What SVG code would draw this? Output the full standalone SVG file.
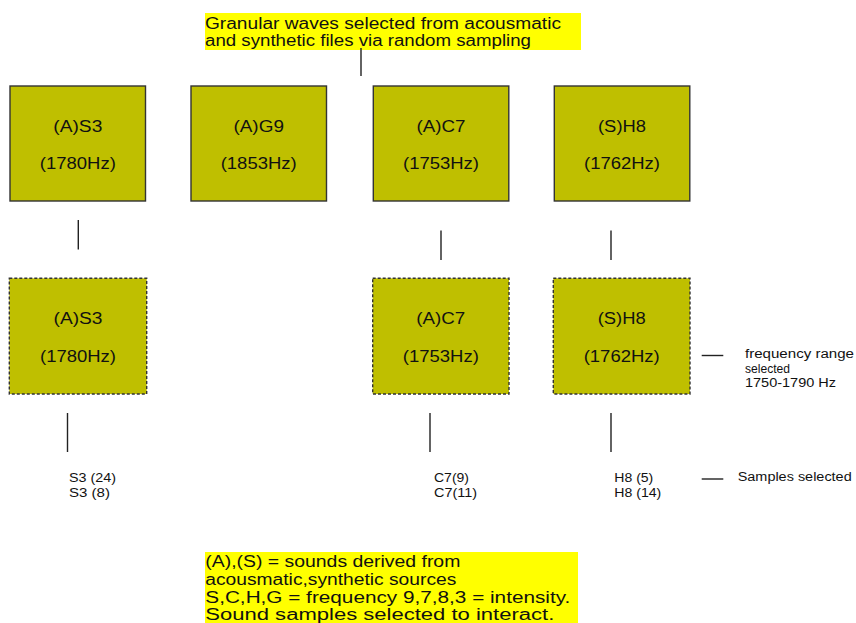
<svg xmlns="http://www.w3.org/2000/svg" width="856" height="623" viewBox="0 0 856 623">
<style>
text{font-family:"Liberation Sans",Arial,sans-serif;fill:#111;}
.cap{font-size:16px;}
.box{font-size:16px;text-anchor:middle;}
.sm{font-size:12px;}
.note{fill:#ffff00;}
.solid{fill:#bfbf00;stroke:#333;stroke-width:1.4;}
.dash{fill:#bfbf00;stroke:#333;stroke-width:1.4;stroke-dasharray:3 2;}
.conn line{stroke:#222;stroke-width:1.4;}
</style>
<rect width="856" height="623" fill="#ffffff"/>
<g id="caption-top">
<rect class="note" x="205" y="13" width="376" height="37"/>
<text class="cap" x="205" y="28.5" textLength="356" lengthAdjust="spacingAndGlyphs">Granular waves selected from acousmatic</text>
<text class="cap" x="205" y="46" textLength="326" lengthAdjust="spacingAndGlyphs">and synthetic files via random sampling</text>
</g>
<g id="node-top-S3">
<rect class="solid" x="10" y="86" width="135.5" height="115"/>
<text class="box" x="77.8" y="131.7" textLength="49" lengthAdjust="spacingAndGlyphs">(A)S3</text>
<text class="box" x="77.8" y="169" textLength="76" lengthAdjust="spacingAndGlyphs">(1780Hz)</text>
</g>
<g id="node-top-G9">
<rect class="solid" x="191" y="86" width="135.5" height="115"/>
<text class="box" x="258.7" y="131.7" textLength="50.5" lengthAdjust="spacingAndGlyphs">(A)G9</text>
<text class="box" x="258.7" y="169" textLength="76" lengthAdjust="spacingAndGlyphs">(1853Hz)</text>
</g>
<g id="node-top-C7">
<rect class="solid" x="373.3" y="86" width="135.5" height="115"/>
<text class="box" x="441" y="131.7" textLength="49" lengthAdjust="spacingAndGlyphs">(A)C7</text>
<text class="box" x="441" y="169" textLength="76" lengthAdjust="spacingAndGlyphs">(1753Hz)</text>
</g>
<g id="node-top-H8">
<rect class="solid" x="554.3" y="86" width="135.5" height="115"/>
<text class="box" x="622" y="131.7" textLength="48" lengthAdjust="spacingAndGlyphs">(S)H8</text>
<text class="box" x="622" y="169" textLength="76" lengthAdjust="spacingAndGlyphs">(1762Hz)</text>
</g>
<g id="node-sel-S3">
<rect class="dash" x="9.3" y="278.3" width="137.4" height="115.7"/>
<text class="box" x="78" y="324" textLength="49" lengthAdjust="spacingAndGlyphs">(A)S3</text>
<text class="box" x="78" y="361.7" textLength="76" lengthAdjust="spacingAndGlyphs">(1780Hz)</text>
</g>
<g id="node-sel-C7">
<rect class="dash" x="372.7" y="278.3" width="136.3" height="115.7"/>
<text class="box" x="440.8" y="324" textLength="49" lengthAdjust="spacingAndGlyphs">(A)C7</text>
<text class="box" x="440.8" y="361.7" textLength="76" lengthAdjust="spacingAndGlyphs">(1753Hz)</text>
</g>
<g id="node-sel-H8">
<rect class="dash" x="553.3" y="278.3" width="136.7" height="115.7"/>
<text class="box" x="621.7" y="324" textLength="48" lengthAdjust="spacingAndGlyphs">(S)H8</text>
<text class="box" x="621.7" y="361.7" textLength="76" lengthAdjust="spacingAndGlyphs">(1762Hz)</text>
</g>
<g id="samples-S3">
<text class="sm" x="69" y="481.5" textLength="47" lengthAdjust="spacingAndGlyphs">S3 (24)</text>
<text class="sm" x="69" y="496.5" textLength="41" lengthAdjust="spacingAndGlyphs">S3 (8)</text>
</g>
<g id="samples-C7">
<text class="sm" x="434" y="481.5" textLength="35" lengthAdjust="spacingAndGlyphs">C7(9)</text>
<text class="sm" x="434" y="496.5" textLength="43" lengthAdjust="spacingAndGlyphs">C7(11)</text>
</g>
<g id="samples-H8">
<text class="sm" x="614.3" y="481.5" textLength="39" lengthAdjust="spacingAndGlyphs">H8 (5)</text>
<text class="sm" x="614.3" y="496.5" textLength="47" lengthAdjust="spacingAndGlyphs">H8 (14)</text>
</g>
<g id="label-frequency">
<text class="sm" x="745" y="357.5" textLength="109" lengthAdjust="spacingAndGlyphs">frequency range</text>
<text class="sm" x="745" y="372.5" textLength="45" lengthAdjust="spacingAndGlyphs">selected</text>
<text class="sm" x="745" y="387" textLength="91" lengthAdjust="spacingAndGlyphs">1750-1790 Hz</text>
</g>
<g id="label-samples">
<text class="sm" x="737.7" y="481" textLength="114" lengthAdjust="spacingAndGlyphs">Samples selected</text>
</g>
<g id="caption-bottom">
<rect class="note" x="205" y="552" width="373" height="71"/>
<text class="cap" x="205.3" y="566.7" textLength="255" lengthAdjust="spacingAndGlyphs">(A),(S) = sounds derived from</text>
<text class="cap" x="205.3" y="584.5" textLength="251" lengthAdjust="spacingAndGlyphs">acousmatic,synthetic sources</text>
<text class="cap" x="205.3" y="602.5" textLength="365" lengthAdjust="spacingAndGlyphs">S,C,H,G = frequency 9,7,8,3 = intensity.</text>
<text class="cap" x="205.3" y="619.5" textLength="349" lengthAdjust="spacingAndGlyphs">Sound samples selected to interact.</text>
</g>
<g id="connectors" class="conn">
<line x1="361" y1="48" x2="361" y2="76"/>
<line x1="78.3" y1="220" x2="78.3" y2="249.5"/>
<line x1="441" y1="230.5" x2="441" y2="260"/>
<line x1="611" y1="230.5" x2="611" y2="260"/>
<line x1="67.5" y1="413" x2="67.5" y2="452"/>
<line x1="430" y1="413" x2="430" y2="452"/>
<line x1="611" y1="413" x2="611" y2="452"/>
<line x1="701.7" y1="355.5" x2="723.3" y2="355.5"/>
<line x1="701.7" y1="479" x2="723.3" y2="479"/>
</g>
</svg>
